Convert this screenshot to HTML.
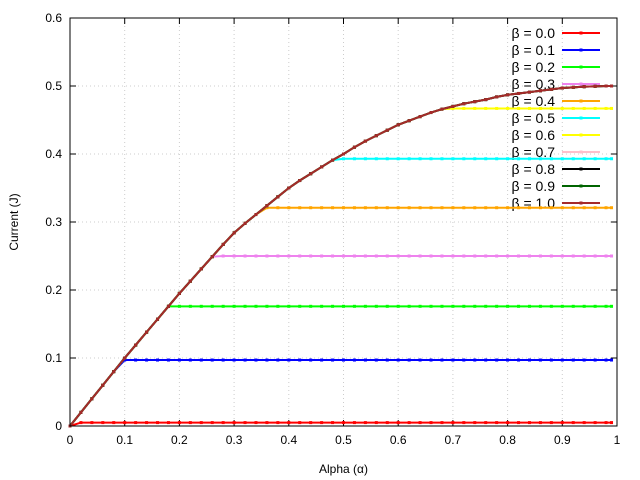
<!DOCTYPE html>
<html><head><meta charset="utf-8"><style>
body{margin:0;background:#fff;}
svg{display:block;font-family:"Liberation Sans",sans-serif;}
</style></head><body>
<svg id="chart" width="640" height="480"></svg>
<script>
const alphas=[0,0.02,0.04,0.06,0.08,0.1,0.12,0.14,0.16,0.18,0.2,0.22,0.24,0.26,0.28,0.3,0.32,0.34,0.36,0.38,0.4,0.42,0.44,0.46,0.48,0.5,0.52,0.54,0.56,0.58,0.6,0.62,0.64,0.66,0.68,0.7,0.72,0.74,0.76,0.78,0.8,0.82,0.84,0.86,0.88,0.9,0.92,0.94,0.96,0.98,0.99];
const curveValues=[0,0.02,0.04,0.06,0.08,0.1,0.119,0.138,0.157,0.176,0.195,0.213,0.231,0.249,0.267,0.284,0.298,0.311,0.324,0.337,0.35,0.361,0.371,0.381,0.391,0.4,0.41,0.419,0.427,0.435,0.443,0.449,0.455,0.461,0.466,0.47,0.474,0.477,0.48,0.484,0.487,0.489,0.491,0.493,0.495,0.497,0.498,0.499,0.4995,0.5,0.5];
const betaLabels=["β = 0.0","β = 0.1","β = 0.2","β = 0.3","β = 0.4","β = 0.5","β = 0.6","β = 0.7","β = 0.8","β = 0.9","β = 1.0"];
const plateauValues=[0.005,0.097,0.176,0.25,0.321,0.393,0.467,0.6,0.6,0.6,0.6];
const colors=["#ff0000","#0000ff","#00ff00","#ee82ee","#ffa500","#00ffff","#ffff00","#ffc0cb","#000000","#006400","#a52a2a"];
const xTicks=[0,0.1,0.2,0.3,0.4,0.5,0.6,0.7,0.8,0.9,1];
const xTickLabels=["0","0.1","0.2","0.3","0.4","0.5","0.6","0.7","0.8","0.9","1"];
const yTicks=[0,0.1,0.2,0.3,0.4,0.5,0.6];
const yTickLabels=["0","0.1","0.2","0.3","0.4","0.5","0.6"];

const NS="http://www.w3.org/2000/svg";
const svg=document.getElementById('chart');
const L=70,R=617,T=18,B=426;
const xs=v=>L+v*(R-L);
const ys=v=>B-v/0.6*(B-T);
function mk(tag,attrs,parent){const e=document.createElementNS(NS,tag);for(const k in attrs)e.setAttribute(k,attrs[k]);(parent||svg).appendChild(e);return e;}

const grid=mk('g',{});


xTicks.forEach((v,i)=>{
  if(i>0&&i<xTicks.length-1){mk('line',{x1:xs(v),x2:xs(v),y1:T,y2:B,stroke:'#ccc','stroke-dasharray':'1,3'},grid);}
  const t=mk('line',{x1:xs(v),x2:xs(v),y1:B,y2:B-6,stroke:'#000'});
  
  
  mk('line',{x1:xs(v),x2:xs(v),y1:T,y2:T+6,stroke:'#000'});
  const tx=mk('text',{x:xs(v),y:B+18,'text-anchor':'middle','font-size':12});
  tx.textContent=xTickLabels[i];
  
  
});
yTicks.forEach((v,i)=>{
  if(i>0&&i<yTicks.length-1){mk('line',{x1:L,x2:R,y1:ys(v),y2:ys(v),stroke:'#ccc','stroke-dasharray':'1,3'},grid);}
  const t=mk('line',{x1:L,x2:L+6,y1:ys(v),y2:ys(v),stroke:'#000'});
  
  
  mk('line',{x1:R,x2:R-6,y1:ys(v),y2:ys(v),stroke:'#000'});
  const tx=mk('text',{x:L-8,y:ys(v)+4,'text-anchor':'end','font-size':12});
  tx.textContent=yTickLabels[i];
  
  
});

const leg=mk('g',{});


betaLabels.forEach((lab,i)=>{
  const y=33+i*17;
  const g=mk('g',{},leg);
  
  
  const t=mk('text',{x:555,y:y+5,'text-anchor':'end','font-size':14},g);
  t.textContent=lab;
  mk('line',{x1:562,x2:600,y1:y,y2:y,stroke:colors[i],'stroke-width':2},g);
  mk('rect',{x:579.5,y:y-1.5,width:3,height:3,fill:colors[i]},g);
});

betaLabels.forEach((lab,i)=>{
  const g=mk('g',{});
  
  
  const pts=alphas.map((a,j)=>[xs(a),ys(Math.min(curveValues[j],plateauValues[i]))]);
  mk('polyline',{points:pts.map(p=>p.join(',')).join(' '),fill:'none',stroke:colors[i],'stroke-width':2},g);
  pts.forEach(p=>mk('rect',{x:p[0]-1.5,y:p[1]-1.5,width:3,height:3,fill:colors[i]},g));
});

const frame=mk('rect',{x:L,y:T,width:R-L,height:B-T,fill:'none',stroke:'#000'});


const xt=mk('text',{x:(L+R)/2,y:473,'text-anchor':'middle','font-size':12});
xt.textContent='Alpha (α)';


const yt=mk('text',{x:18,y:(T+B)/2,'text-anchor':'middle','font-size':12,transform:'rotate(-90 18 '+((T+B)/2)+')'});
yt.textContent='Current (J)';


</script>
</body></html>
